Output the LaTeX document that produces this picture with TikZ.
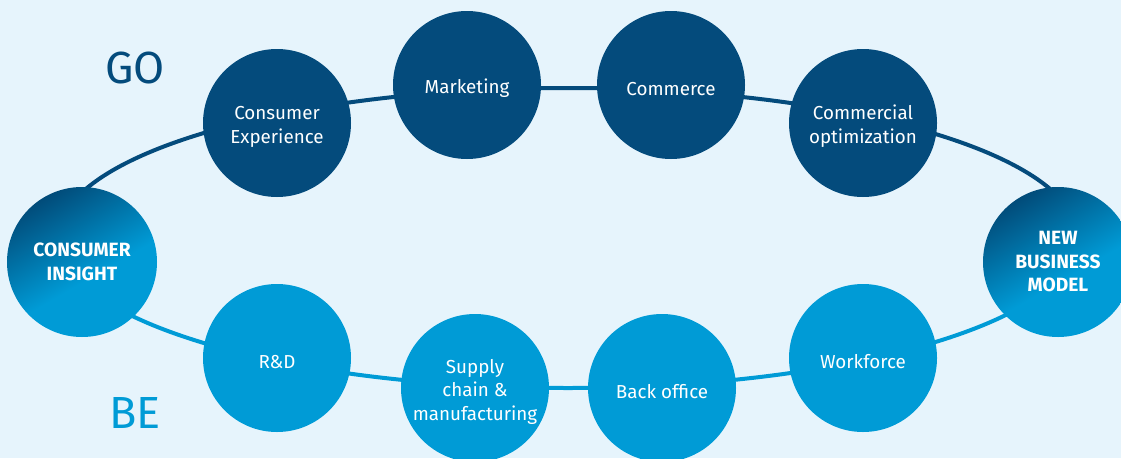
\documentclass[tikz,border=0pt]{standalone}
\usepackage{fontspec}
\setmainfont{Fira Sans}
\definecolor{gobl}{HTML}{044B7C}
\definecolor{godeep}{HTML}{013F6B}
\definecolor{bebl}{HTML}{009BD6}
\definecolor{paper}{HTML}{E6F4FC}
% diagonal blend used by the two end hubs (bottom = light, top = dark)
\pgfdeclareverticalshading{hubblend}{100bp}{%
  color(0bp)=(bebl); color(25bp)=(bebl); color(44bp)=(bebl);
  color(80bp)=(godeep); color(100bp)=(godeep)}
% taller first line, so hub labels sit a little below the centre
\newcommand{\hubtop}{\rule{0pt}{21pt}}
\begin{document}
\begin{tikzpicture}[x=1pt,y=-1pt,
  hub/.style={circle, minimum size=148pt, inner sep=0pt, align=center,
    text=white, font=\fontsize{18.8}{23.5}\selectfont},
  gohub/.style={hub, fill=gobl},
  behub/.style={hub, fill=bebl},
  keyhub/.style={hub, minimum size=150pt, shading=hubblend, shading angle=30,
    font=\fontsize{19.2}{23.5}\selectfont\bfseries},
  ring/.style={line width=4pt},
  tag/.style={font=\fontsize{45}{45}\selectfont, anchor=base}]
  \useasboundingbox (0,0) rectangle (1121,458);
  \clip (0,0) rectangle (1121,458);
  \fill[paper] (0,0) rectangle (1121,458);

  % the loop behind the hubs: upper half dark, lower half light
  \coordinate (ringc) at (568,238);
  \draw[ring, gobl] (ringc) ++(-510,0)
    arc[start angle=180, end angle=360, x radius=510, y radius=150];
  \draw[ring, bebl] (ringc) ++(510,0)
    arc[start angle=0, end angle=180, x radius=510, y radius=150];

  % GO row
  \node[gohub] (ce) at (277,123) {\hubtop Consumer\\Experience};
  \node[gohub] (mk) at (467,85)  {\hubtop Marketing};
  \node[gohub] (cm) at (671,85)  {\hubtop Commerce};
  \node[gohub] (co) at (863,123) {\hubtop Commercial\\optimization};

  % BE row
  \node[behub] (rd) at (277,358) {\hubtop R\&D};
  \node[behub] (sc) at (475,388) {\hubtop Supply\\chain \&\\manufacturing};
  \node[behub] (bo) at (662,388) {\hubtop Back office};
  \node[behub] (wf) at (863,358) {\hubtop Workforce};

  % end hubs
  \node[keyhub] (ci)  at (82,262)   {CONSUMER\\INSIGHT};
  \node[keyhub] (nbm) at (1058,262) {NEW\\BUSINESS\\MODEL};

  % row tags
  \node[tag, text=gobl] (go) at (135,83)  {GO};
  \node[tag, text=bebl] (be) at (135,428) {BE};
\end{tikzpicture}
\end{document}
